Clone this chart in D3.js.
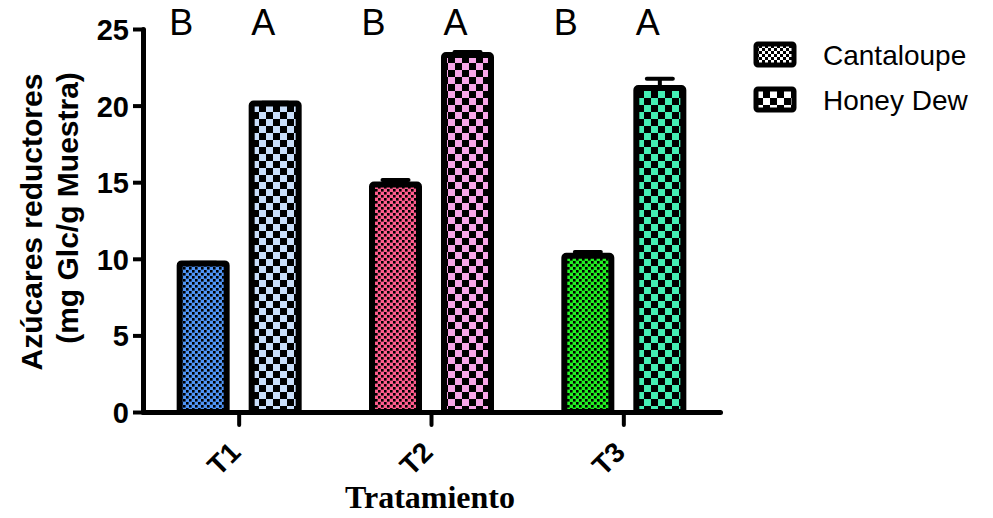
<!DOCTYPE html>
<html><head><meta charset="utf-8">
<script src="https://cdn.jsdelivr.net/npm/d3@7"></script>
<style>body{margin:0;background:#fff}</style>
</head><body>
<svg id="c" width="993" height="518"></svg>
<script>
const categories = ["T1","T2","T3"];
const series = ["Cantaloupe","Honey Dew"];
const cantaloupe = [9.7, 14.85, 10.2];
const cantaloupeErr = [0.05, 0.3, 0.25];
const honeyDew = [20.14, 23.3, 21.15];
const honeyDewErr = [0.05, 0.2, 0.6];
const letters = [["B","A"],["B","A"],["B","A"]];
const yTicks = [0,5,10,15,20,25];
const colors = {
  Cantaloupe: ["#4f94f5","#ff5c8d","#22f022"],
  "Honey Dew": ["#c9defa","#f7a6e8","#44eeb4"]
};

const svg = d3.select("#c");
const defs = svg.append("defs");
const x = d3.scaleBand().domain(categories).range([143,720]).padding(0);
const y = d3.scaleLinear().domain([0,25]).range([412,29]);
const x1 = d3.scaleBand().domain(series)
  .range([x.bandwidth()/2-62.5, x.bandwidth()/2+62.5]).paddingInner(0.264).paddingOuter(0);

function pattern(id, color, cell, blk){
  const p = defs.append("pattern").attr("id",id).attr("patternUnits","userSpaceOnUse")
    .attr("width",cell*2).attr("height",cell*2);
  p.append("rect").attr("width",cell*2).attr("height",cell*2).attr("fill",color);
  p.append("rect").attr("width",blk).attr("height",blk).attr("fill","#000");
  p.append("rect").attr("x",cell).attr("y",cell).attr("width",blk).attr("height",blk).attr("fill","#000");
}
categories.forEach((c,i)=>{
  pattern("pc"+i, colors.Cantaloupe[i], 3, 2.6);
  pattern("ph"+i, colors["Honey Dew"][i], 7, 7);
});
pattern("legc","#fff",3,3);
pattern("legh","#fff",7,7);

const data = [];
categories.forEach((c,i)=>{
  data.push({cat:c, s:"Cantaloupe", v:cantaloupe[i], e:cantaloupeErr[i], fill:"url(#pc"+i+")"});
  data.push({cat:c, s:"Honey Dew", v:honeyDew[i], e:honeyDewErr[i], fill:"url(#ph"+i+")"});
});

// error bars
const eb = svg.append("g");
data.forEach(d=>{
  const cx = x(d.cat)+x1(d.s)+x1.bandwidth()/2;
  eb.append("line").attr("x1",cx).attr("x2",cx).attr("y1",y(d.v)).attr("y2",y(d.v+d.e))
    .attr("stroke","#000").attr("stroke-width",4);
  eb.append("line").attr("x1",cx-13).attr("x2",cx+13).attr("y1",y(d.v+d.e)).attr("y2",y(d.v+d.e))
    .attr("stroke","#000").attr("stroke-width",4).attr("stroke-linecap","round");
});

// bars
svg.append("g").selectAll("rect").data(data).join("rect")
  .attr("x",d=>x(d.cat)+x1(d.s)+3)
  .attr("width",x1.bandwidth()-6)
  .attr("y",d=>y(d.v))
  .attr("height",d=>y(0)-y(d.v))
  .attr("rx",2)
  .attr("fill",d=>d.fill).attr("stroke","#000").attr("stroke-width",6);

// axes
const yAxis = svg.append("g").attr("transform","translate(143,0)")
  .call(d3.axisLeft(y).tickValues(yTicks).tickSize(10).tickSizeOuter(0).tickPadding(4));
yAxis.select(".domain").attr("stroke-width",5).attr("stroke-linecap","round");
yAxis.selectAll(".tick line").attr("stroke-width",4);
yAxis.selectAll(".tick text").attr("font-family","Liberation Sans, Arial, sans-serif")
  .attr("font-size",29).attr("font-weight","bold").attr("fill","#000").attr("dy","0.36em");

const xAxis = svg.append("g").attr("transform","translate(0,412)")
  .call(d3.axisBottom(x).tickSize(13).tickSizeOuter(0));
xAxis.select(".domain").attr("stroke-width",5).attr("stroke-linecap","round");
xAxis.selectAll(".tick line").attr("stroke-width",4).attr("stroke-linecap","round");
xAxis.selectAll(".tick text").attr("font-family","Liberation Sans, Arial, sans-serif")
  .attr("font-size",28).attr("font-weight","bold").attr("fill","#000")
  .attr("x",0).attr("y",0).attr("dy",null)
  .attr("text-anchor","end").attr("transform","translate(3,42) rotate(-45)");

// significance letters
categories.forEach((c,i)=>{
  const cx = x(c)+x.bandwidth()/2;
  svg.append("text").attr("x",cx-58).attr("y",35).attr("text-anchor","middle")
    .attr("font-family","Liberation Sans, Arial, sans-serif").attr("font-size",36).text(letters[i][0]);
  svg.append("text").attr("x",cx+24).attr("y",35).attr("text-anchor","middle")
    .attr("font-family","Liberation Sans, Arial, sans-serif").attr("font-size",36).text(letters[i][1]);
});

// axis titles
svg.append("text").attr("transform","translate(42,222) rotate(-90)").attr("text-anchor","middle")
  .attr("font-family","Liberation Sans, Arial, sans-serif").attr("font-size",30).attr("font-weight","bold")
  .text("Azúcares reductores");
svg.append("text").attr("transform","translate(78,208) rotate(-90)").attr("text-anchor","middle")
  .attr("font-family","Liberation Sans, Arial, sans-serif").attr("font-size",30).attr("font-weight","bold")
  .text("(mg Glc/g Muestra)");
svg.append("text").attr("x",430).attr("y",508).attr("text-anchor","middle")
  .attr("font-family","Liberation Serif, Times New Roman, serif").attr("font-size",32).attr("font-weight","bold")
  .text("Tratamiento");

// legend
const leg = svg.append("g");
series.forEach((s,i)=>{
  const gy = 44 + i*45;
  leg.append("rect").attr("x",756).attr("y",gy).attr("width",38).attr("height",21).attr("rx",2)
    .attr("fill", i===0?"url(#legc)":"url(#legh)").attr("stroke","#000").attr("stroke-width",5);
  leg.append("text").attr("x",823).attr("y",gy+21).attr("font-family","Liberation Sans, Arial, sans-serif")
    .attr("font-size",28).text(s);
});
</script>
</body></html>
